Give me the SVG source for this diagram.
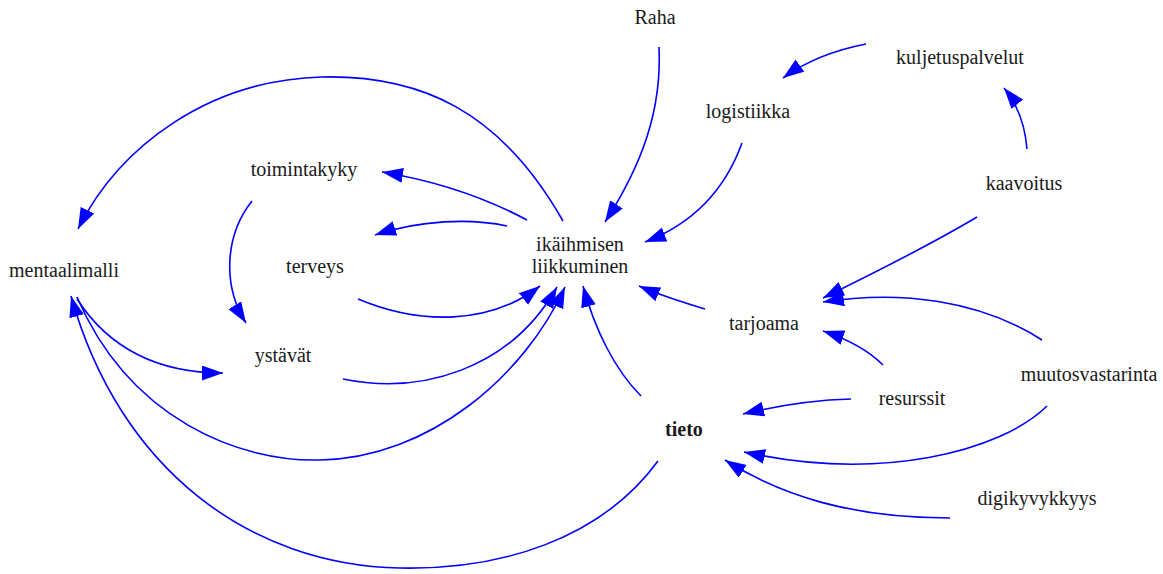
<svg xmlns="http://www.w3.org/2000/svg" width="1163" height="574" viewBox="0 0 1163 574">
  <style>
    .lbl { font-family: 'Times New Roman', 'Liberation Serif', Tinos, serif; font-size: 20px; fill: #1a1a1a; text-anchor: middle; }
    .bold { font-weight: bold; }
    .edge { fill: none; stroke: #0000ff; stroke-width: 1.6; marker-end: url(#arrow); }
  </style>
  <defs>
    <marker id="arrow" markerUnits="userSpaceOnUse" markerWidth="24" markerHeight="16" refX="21" refY="7.5" orient="auto">
      <path d="M0,0 L21,7.5 L0,15 z" fill="#0000ff"/>
    </marker>
  </defs>
  <rect width="1163" height="574" fill="#ffffff"/>

  <g id="connectors">
    <path class="edge" d="M659,47 C662,110 642,165 605,222"/>
    <path class="edge" d="M742,143 C725,190 692,224 645,242"/>
    <path class="edge" d="M866,44 C835,50 805,62 783,78"/>
    <path class="edge" d="M1027,149 C1025,125 1018,105 1004,88"/>
    <path class="edge" d="M977,217 C930,245 870,275 823,298"/>
    <path class="edge" d="M1042,340 C980,300 900,290 823,302"/>
    <path class="edge" d="M883,365 C870,352 850,340 823,331"/>
    <path class="edge" d="M851,399 C815,400 780,405 743,414"/>
    <path class="edge" d="M1047,406 C1000,452 880,482 744,452"/>
    <path class="edge" d="M950,518 C850,518 780,495 725,460"/>
    <path class="edge" d="M705,309 C685,303 660,295 639,286"/>
    <path class="edge" d="M641,396 C615,370 595,330 583,286"/>
    <path class="edge" d="M527,220 C480,195 430,180 382,172"/>
    <path class="edge" d="M507,226 C470,218 420,220 375,235"/>
    <path class="edge" d="M563,221 C500,110 420,75 322,77 C210,80 120,145 78,229"/>
    <path class="edge" d="M252,201 C225,235 222,285 246,323"/>
    <path class="edge" d="M358,299 C420,325 490,325 540,286"/>
    <path class="edge" d="M343,379 C420,395 510,370 557,287"/>
    <path class="edge" d="M77,297 C130,420 240,462 320,460 C430,458 525,375 565,287"/>
    <path class="edge" d="M77,299 C110,350 160,373 223,373"/>
    <path class="edge" d="M658,461 C600,540 500,570 400,568 C250,565 120,470 71,296"/>
  </g>

  <g id="raha"><text class="lbl" x="655" y="24">Raha</text></g>
  <g id="kuljetuspalvelut"><text class="lbl" x="960" y="64">kuljetuspalvelut</text></g>
  <g id="logistiikka"><text class="lbl" x="748" y="118">logistiikka</text></g>
  <g id="kaavoitus"><text class="lbl" x="1024" y="190">kaavoitus</text></g>
  <g id="toimintakyky"><text class="lbl" x="304" y="176">toimintakyky</text></g>
  <g id="ikaihmisen-liikkuminen">
    <text class="lbl" x="580" y="251">ikäihmisen</text>
    <text class="lbl" x="580" y="273">liikkuminen</text>
  </g>
  <g id="mentaalimalli"><text class="lbl" x="64" y="277">mentaalimalli</text></g>
  <g id="terveys"><text class="lbl" x="315" y="273">terveys</text></g>
  <g id="tarjoama"><text class="lbl" x="764" y="330">tarjoama</text></g>
  <g id="ystavat"><text class="lbl" x="283" y="362">ystävät</text></g>
  <g id="muutosvastarinta"><text class="lbl" x="1089" y="381">muutosvastarinta</text></g>
  <g id="resurssit"><text class="lbl" x="912" y="405">resurssit</text></g>
  <g id="tieto"><text class="lbl bold" x="684" y="436">tieto</text></g>
  <g id="digikyvykkyys"><text class="lbl" x="1037" y="505">digikyvykkyys</text></g>
</svg>
